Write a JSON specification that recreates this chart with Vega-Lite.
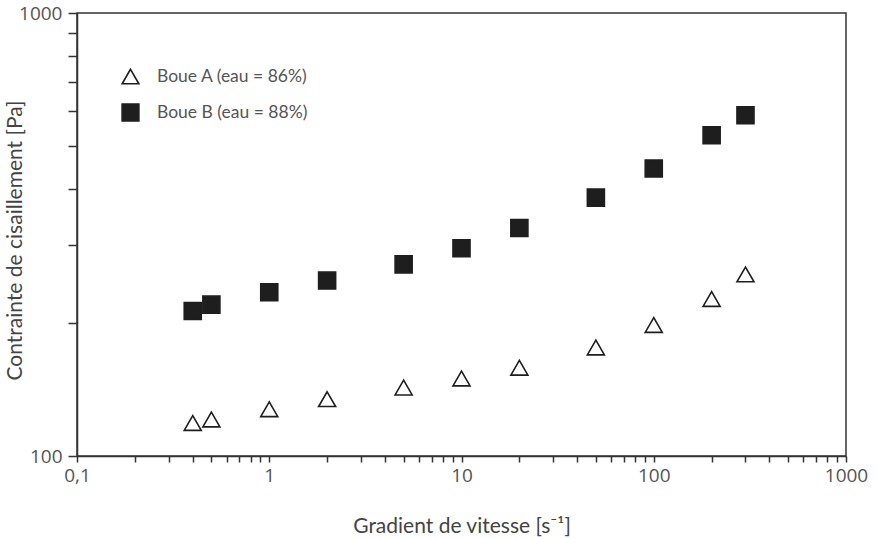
{
  "$schema": "https://vega.github.io/schema/vega-lite/v6.json",
  "width": 769,
  "height": 443,
  "autosize": "none",
  "padding": {"left": 77, "top": 13, "right": 32, "bottom": 83},
  "background": "white",
  "config": {
    "font": "Lato",
    "view": {"stroke": "#333", "strokeWidth": 1.5},
    "axis": {
      "domainColor": "#333",
      "domainWidth": 1.5,
      "tickColor": "#333",
      "tickWidth": 1.5,
      "grid": false,
      "labelColor": "#555",
      "labelFont": "Open Sans",
      "labelFontSize": 19,
      "titleFont": "Lato",
      "titleFontSize": 21,
      "titleFontWeight": "normal",
      "titleColor": "#444",
      "labelOverlap": false,
      "labelFlush": false
    },
    "legend": {
      "labelFont": "Lato",
      "labelFontSize": 17.5,
      "labelColor": "#555"
    }
  },
  "data": {
    "values": [
      {"serie": "Boue A (eau = 86%)", "gradient": 0.4, "contrainte": 118.7},
      {"serie": "Boue A (eau = 86%)", "gradient": 0.5, "contrainte": 120.9},
      {"serie": "Boue A (eau = 86%)", "gradient": 1, "contrainte": 127.5},
      {"serie": "Boue A (eau = 86%)", "gradient": 2, "contrainte": 134.4},
      {"serie": "Boue A (eau = 86%)", "gradient": 5, "contrainte": 142.7},
      {"serie": "Boue A (eau = 86%)", "gradient": 10, "contrainte": 149.6},
      {"serie": "Boue A (eau = 86%)", "gradient": 20, "contrainte": 158.2},
      {"serie": "Boue A (eau = 86%)", "gradient": 50, "contrainte": 175.8},
      {"serie": "Boue A (eau = 86%)", "gradient": 100, "contrainte": 197.6},
      {"serie": "Boue A (eau = 86%)", "gradient": 200, "contrainte": 226.1},
      {"serie": "Boue A (eau = 86%)", "gradient": 300, "contrainte": 257},
      {"serie": "Boue B (eau = 88%)", "gradient": 0.4, "contrainte": 212.5},
      {"serie": "Boue B (eau = 88%)", "gradient": 0.5, "contrainte": 219.7},
      {"serie": "Boue B (eau = 88%)", "gradient": 1, "contrainte": 234.2},
      {"serie": "Boue B (eau = 88%)", "gradient": 2, "contrainte": 248.9},
      {"serie": "Boue B (eau = 88%)", "gradient": 5, "contrainte": 270.8},
      {"serie": "Boue B (eau = 88%)", "gradient": 10, "contrainte": 294.4},
      {"serie": "Boue B (eau = 88%)", "gradient": 20, "contrainte": 327.1},
      {"serie": "Boue B (eau = 88%)", "gradient": 50, "contrainte": 383.1},
      {"serie": "Boue B (eau = 88%)", "gradient": 100, "contrainte": 445.6},
      {"serie": "Boue B (eau = 88%)", "gradient": 200, "contrainte": 529.7},
      {"serie": "Boue B (eau = 88%)", "gradient": 300, "contrainte": 587.7}
    ]
  },
  "mark": {"type": "point", "filled": false, "strokeWidth": 1.6, "opacity": 1},
  "encoding": {
    "x": {
      "field": "gradient",
      "type": "quantitative",
      "scale": {"type": "log", "domain": [0.1, 1000], "nice": false},
      "axis": {
        "title": "Gradient de vitesse [s⁻¹]",
        "values": [0.1, 0.2, 0.3, 0.4, 0.5, 0.6, 0.7, 0.8, 0.9, 1, 2, 3, 4, 5, 6, 7, 8, 9, 10, 20, 30, 40, 50, 60, 70, 80, 90, 100, 200, 300, 400, 500, 600, 700, 800, 900, 1000],
        "labelExpr": "datum.value == 0.1 ? '0,1' : (datum.value == 1 || datum.value == 10 || datum.value == 100 || datum.value == 1000) ? format(datum.value, 'd') : ''",
        "tickSize": 6,
        "labelPadding": 4,
        "titleY": 70,
        "titleBaseline": "middle"
      }
    },
    "y": {
      "field": "contrainte",
      "type": "quantitative",
      "scale": {"type": "log", "domain": [100, 1000], "nice": false},
      "axis": {
        "title": "Contrainte de cisaillement [Pa]",
        "values": [100, 200, 300, 400, 500, 600, 700, 800, 900, 1000],
        "labelExpr": "(datum.value == 100 || datum.value == 1000) ? format(datum.value, 'd') : ''",
        "tickSize": 9,
        "labelPadding": 6,
        "titleX": -62,
        "titleY": 227,
        "titleAnchor": "middle",
        "titleBaseline": "middle"
      }
    },
    "shape": {
      "field": "serie",
      "type": "nominal",
      "scale": {"domain": ["Boue A (eau = 86%)", "Boue B (eau = 88%)"], "range": ["triangle-up", "square"]},
      "legend": {
        "title": null,
        "orient": "none",
        "legendX": 44,
        "legendY": 54,
        "symbolSize": 280,
        "symbolStrokeWidth": 1.6,
        "rowPadding": 13,
        "labelOffset": 17,
        "padding": 0
      }
    },
    "fill": {
      "field": "serie",
      "type": "nominal",
      "scale": {"domain": ["Boue A (eau = 86%)", "Boue B (eau = 88%)"], "range": ["white", "#1e1e1e"]},
      "legend": null
    },
    "stroke": {
      "field": "serie",
      "type": "nominal",
      "scale": {"domain": ["Boue A (eau = 86%)", "Boue B (eau = 88%)"], "range": ["#1e1e1e", "#1e1e1e"]},
      "legend": null
    },
    "size": {"value": 290}
  }
}
